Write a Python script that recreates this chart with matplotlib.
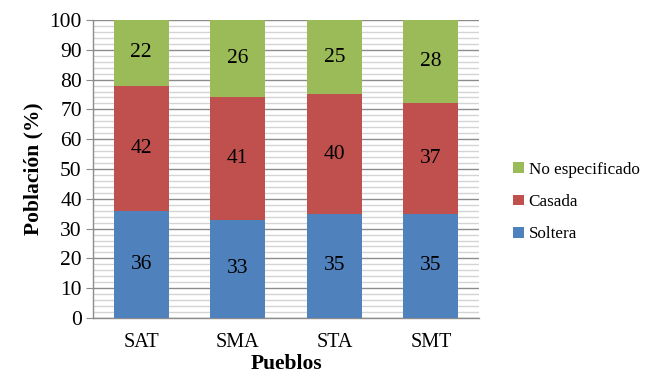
import matplotlib.pyplot as plt
from matplotlib.ticker import MultipleLocator
import numpy as np

pueblos = ['SAT', 'SMA', 'STA', 'SMT']
soltera = [36, 33, 35, 35]
casada = [42, 41, 40, 37]
no_esp = [22, 26, 25, 28]

plt.rcParams['font.family'] = ['Liberation Serif', 'DejaVu Serif']

fig = plt.figure(figsize=(6.45, 3.77), dpi=100)
ax = fig.add_axes([0.144, 0.1565, 0.599, 0.7905])

x = np.arange(len(pueblos))
w = 0.57
b1 = ax.bar(x, soltera, w, color='#4F81BD', label='Soltera', zorder=3)
b2 = ax.bar(x, casada, w, bottom=soltera, color='#C0504D', label='Casada', zorder=3)
bot3 = np.array(soltera) + np.array(casada)
b3 = ax.bar(x, no_esp, w, bottom=bot3, color='#9BBB59', label='No especificado', zorder=3)

for bars, vals in ((b1, soltera), (b2, casada), (b3, no_esp)):
    ax.bar_label(bars, labels=[str(v) for v in vals], label_type='center',
                 fontsize=15.5, color='black', zorder=4)

ax.set_xlim(-0.5, 3.5)
ax.set_ylim(0, 100)
ax.yaxis.set_major_locator(MultipleLocator(10))
ax.yaxis.set_minor_locator(MultipleLocator(2))
ax.grid(axis='y', which='major', color='#8c8c8c', linewidth=1.0, zorder=1)
ax.grid(axis='y', which='minor', color='#d4d4d4', linewidth=1.0, zorder=0)

for s in ('top', 'right'):
    ax.spines[s].set_visible(False)
for s in ('left', 'bottom'):
    ax.spines[s].set_color('#8c8c8c')
    ax.spines[s].set_linewidth(1.0)

ax.set_xticks(x)
ax.set_xticklabels(pueblos)
ax.tick_params(axis='x', length=0, pad=11, labelsize=14.5)
ax.tick_params(axis='y', which='major', length=5, color='#8c8c8c', labelsize=15.5, pad=3)
ax.tick_params(axis='y', which='minor', length=0)

ax.set_xlabel('Pueblos', fontsize=15.5, fontweight='bold', labelpad=1)
ax.set_ylabel('Población (%)', fontsize=15.5, fontweight='bold', labelpad=4)

handles = [b3, b2, b1]
fig.legend(handles, [h.get_label() for h in handles], loc='center left',
           bbox_to_anchor=(0.772, 0.464), frameon=False, fontsize=12.3,
           handlelength=0.6, handleheight=0.6, handletextpad=0.3, labelspacing=0.95)

fig.savefig('out.png', dpi=100)
